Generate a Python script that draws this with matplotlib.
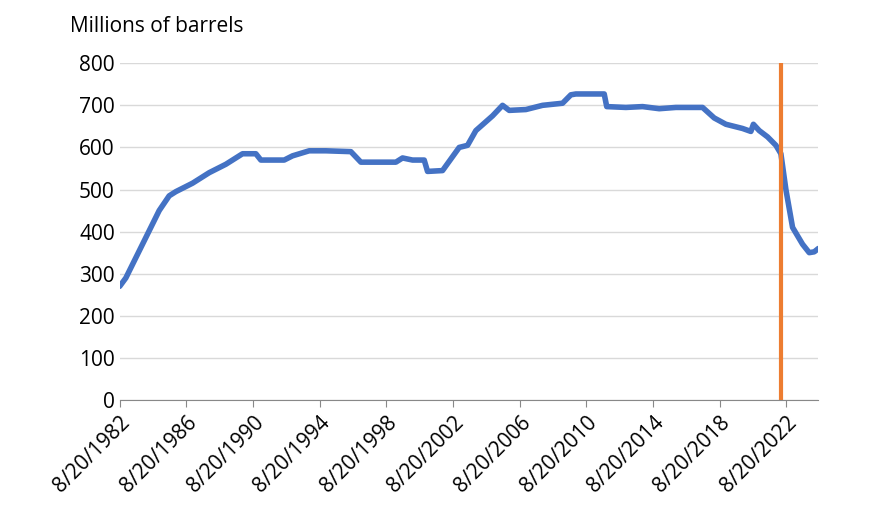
import matplotlib
matplotlib.use("Agg")
import matplotlib.pyplot as plt
import pandas as pd
import numpy as np

plt.rcParams['font.family'] = ['Open Sans', 'DejaVu Sans']

years = [1982.63,1983.0,1983.5,1984.0,1984.5,1985.0,1985.6,1986.0,1987.0,1988.0,1989.0,1990.0,1990.8,1991.1,
         1992.5,1993.0,1994.0,1995.0,1996.5,1997.1,1999.2,1999.6,2000.2,2000.9,2001.1,2002.0,2003.0,2003.5,
         2004.0,2005.0,2005.6,2006.0,2007.0,2008.0,2009.2,2009.7,2010.0,2011.7,2011.85,2013.0,2014.0,2015.0,
         2016.0,2017.6,2018.3,2019.0,2020.0,2020.5,2020.65,2021.0,2021.5,2022.0,2022.3,2022.6,2023.0,2023.6,
         2024.0,2024.3,2024.55]
values = [270,290,330,370,410,450,485,495,515,540,560,585,585,570,
          570,580,592,592,590,565,565,575,570,570,543,545,600,605,
          640,675,700,688,690,700,705,725,727,727,697,695,697,692,
          695,695,670,655,645,638,655,640,625,605,585,500,410,370,
          350,352,360]
release_date = 2022.3
xtick_labels = [f"8/20/{y}" for y in range(1982, 2023, 4)]

def yr2date(y):
    return pd.Timestamp('1982-01-01') + pd.to_timedelta((y - 1982) * 365.25, unit='D')

dates = [yr2date(y) for y in years]

fig = plt.figure(figsize=(8.8, 5.27), dpi=100)
ax = fig.add_axes([0.136, 0.241, 0.794, 0.639])
ax.plot(dates, values, color='#4472C4', lw=4, solid_capstyle='round', solid_joinstyle='round')
ax.plot([yr2date(release_date)]*2, [0, 800], color='#ED7D31', lw=3)
ax.set_ylim(0, 800)
ax.set_yticks(range(0, 801, 100))
ax.set_xlim(yr2date(1982.63), yr2date(2024.55))
ticks = [pd.Timestamp(f"{y}-08-20") for y in range(1982, 2023, 4)]
ax.set_xticks(ticks)
ax.set_xticklabels(xtick_labels, rotation=45, ha='right', rotation_mode='anchor', fontsize=15)
ax.tick_params(axis='y', labelsize=15, length=0)
ax.tick_params(axis='x', length=5, color='#888888')
ax.grid(axis='y', color='#d9d9d9', lw=1)
ax.set_axisbelow(True)
for s in ['top', 'right', 'left']:
    ax.spines[s].set_visible(False)
ax.spines['bottom'].set_color('#888888')
fig.text(0.08, 0.95, "Millions of barrels", fontsize=15, va='center')
fig.savefig("out.png", dpi=100)
